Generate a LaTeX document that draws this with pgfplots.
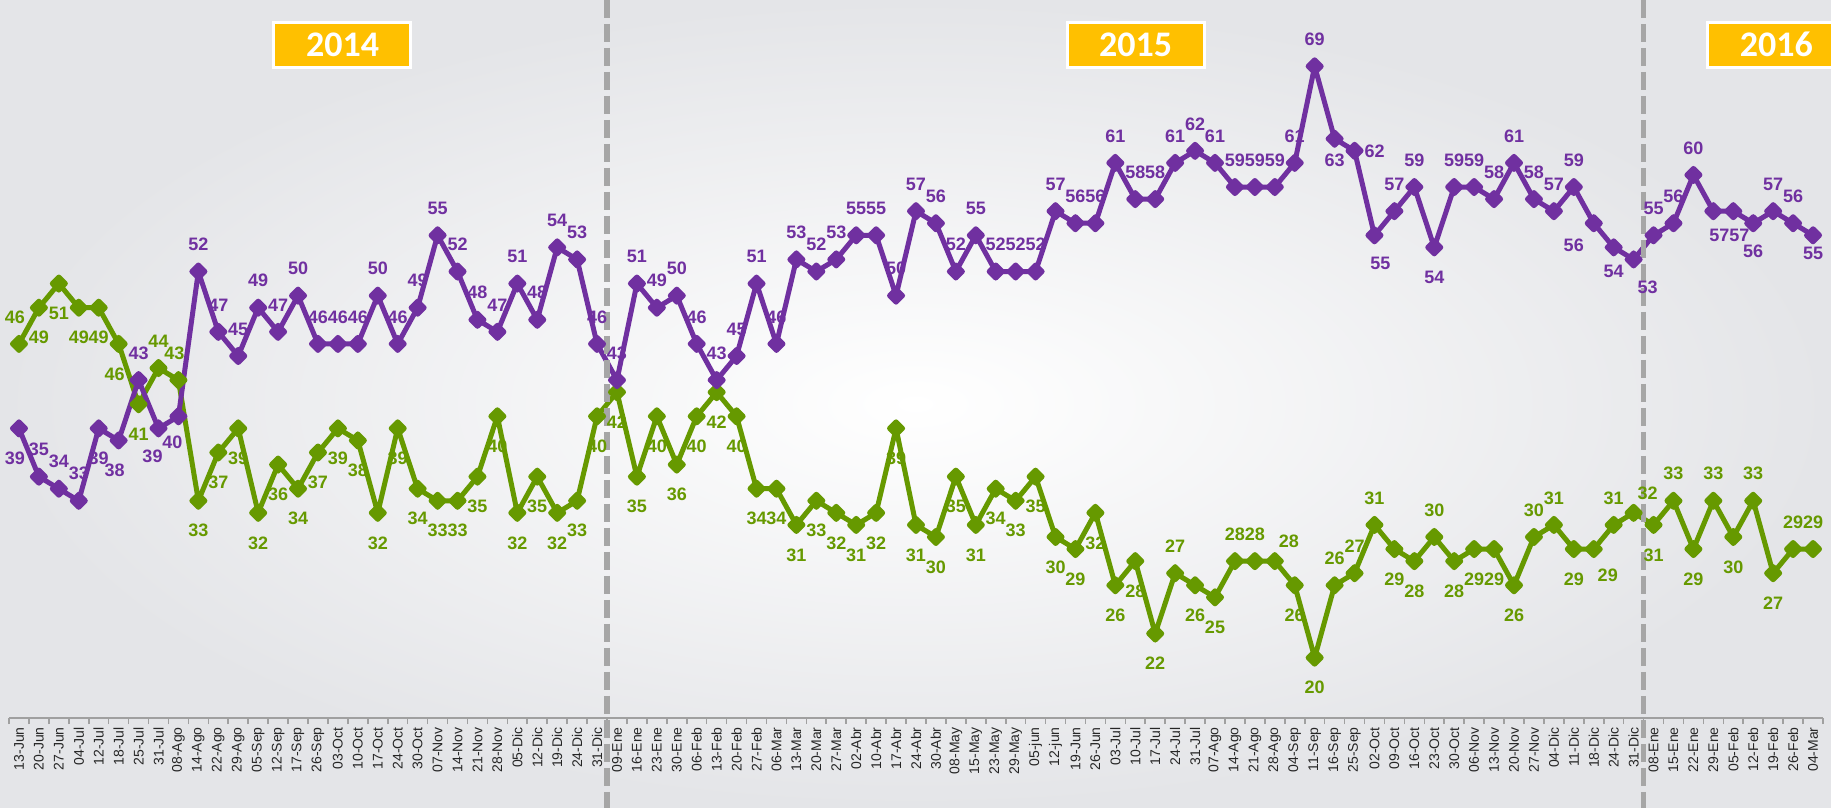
\documentclass[border=0pt]{standalone}
\usepackage{fontspec}
\setmainfont{Liberation Sans}
\newfontfamily\yearfont{Carlito}
\usepackage{pgfplots}
\usepackage{pgfplotstable}
\pgfplotsset{compat=1.18}
\definecolor{cP}{HTML}{7030A0}
\definecolor{cG}{HTML}{669900}
\definecolor{cDash}{HTML}{A6A6A6}
\definecolor{cYear}{HTML}{FFC000}
\definecolor{bgEdge}{HTML}{E4E5E8}
\definecolor{cAxis}{HTML}{A0A0A0}

\pgfplotstableread{
x P pdx pdy G gdx gdy
0 39 -2 -15 46 -2 13.5
1 35 0 13.5 49 0 -15
2 34 0 13.5 51 0 -15
3 33 0 13.5 49 0 -15
4 39 0 -15 49 0 -15
5 38 -2 -15 46 -2 -15
6 43 0 13.5 41 0 -15
7 39 -3 -14 44 0 13.5
8 40 -3 -13 43 -2 13.5
9 52 0 13.5 33 0 -15
10 47 0 13.5 37 0 -15
11 45 0 13.5 39 0 -15
12 49 0 13.5 32 0 -15
13 47 0 13.5 36 0 -15
14 50 0 13.5 34 0 -15
15 46 0 13.5 37 0 -15
16 46 0 13.5 39 0 -15
17 46 0 13.5 38 0 -15
18 50 0 13.5 32 0 -15
19 46 0 13.5 39 0 -15
20 49 0 13.5 34 0 -15
21 55 0 13.5 33 0 -15
22 52 0 13.5 33 0 -15
23 48 0 13.5 35 0 -15
24 47 0 13.5 40 0 -15
25 51 0 13.5 32 0 -15
26 48 0 13.5 35 0 -15
27 54 0 13.5 32 0 -15
28 53 0 13.5 33 0 -15
29 46 0 13.5 40 0 -15
30 43 0 13.5 42 0 -15
31 51 0 13.5 35 0 -15
32 49 0 13.5 40 0 -15
33 50 0 13.5 36 0 -15
34 46 0 13.5 40 0 -15
35 43 0 13.5 42 0 -15
36 45 0 13.5 40 0 -15
37 51 0 13.5 34 0 -15
38 46 0 13.5 34 0 -15
39 53 0 13.5 31 0 -15
40 52 0 13.5 33 0 -15
41 53 0 13.5 32 0 -15
42 55 0 13.5 31 0 -15
43 55 0 13.5 32 0 -15
44 50 0 13.5 39 0 -15
45 57 0 13.5 31 0 -15
46 56 0 13.5 30 0 -15
47 52 0 13.5 35 0 -15
48 55 0 13.5 31 0 -15
49 52 0 13.5 34 0 -15
50 52 0 13.5 33 0 -15
51 52 0 13.5 35 0 -15
52 57 0 13.5 30 0 -15
53 56 0 13.5 29 0 -15
54 56 0 13.5 32 0 -15
55 61 0 13.5 26 0 -15
56 58 0 13.5 28 0 -15
57 58 0 13.5 22 0 -15
58 61 0 13.5 27 0 13.5
59 62 0 13.5 26 0 -15
60 61 0 13.5 25 0 -15
61 59 0 13.5 28 0 13.5
62 59 0 13.5 28 0 13.5
63 59 0 13.5 28 7 10
64 61 0 13.5 26 0 -15
65 69 0 13.5 20 0 -15
66 63 0 -11 26 0 13.5
67 62 10 0 27 0 13.5
68 55 3 -14 31 0 13.5
69 57 0 13.5 29 0 -15
70 59 0 13.5 28 0 -15
71 54 0 -15 30 0 13.5
72 59 0 13.5 28 0 -15
73 59 0 13.5 29 0 -15
74 58 0 13.5 29 0 -15
75 61 0 13.5 26 0 -15
76 58 0 13.5 30 0 13.5
77 57 0 13.5 31 0 13.5
78 59 0 13.5 29 0 -15
79 56 -10 -11 29 7 -13
80 54 0 -12 31 0 13.5
81 53 7 -14 32 7 10
82 55 0 13.5 31 0 -15
83 56 0 13.5 33 0 13.5
84 60 0 13.5 29 0 -15
85 57 3 -12 33 0 13.5
86 57 3 -12 30 0 -15
87 56 0 -14 33 0 13.5
88 57 0 13.5 27 0 -15
89 56 0 13.5 29 0 13.5
90 55 0 -9 29 0 13.5
}\data

\begin{document}
\begin{tikzpicture}
\shade[inner color=white, outer color=bgEdge] (-4.5pt,-45pt) rectangle (911pt,359pt);
\begin{axis}[
  at={(0pt,0pt)}, anchor=south west,
  scale only axis, width=907pt, height=359pt,
  xmin=-0.5, xmax=90.5, ymin=15, ymax=74.5,
  clip=false,
  /pgf/number format/assume math mode=true,
  axis x line*=bottom, axis y line=none,
  x axis line style={draw=cAxis, line width=1pt, -},
  xtick={0,...,90},
  major tick length=0pt,
  minor xtick={-0.5,0.5,...,90.5},
  minor tick length=3pt,
  tick align=outside,
  minor tick style={draw=cAxis, line width=0.8pt},
  xticklabels={13-Jun,20-Jun,27-Jun,04-Jul,12-Jul,18-Jul,25-Jul,31-Jul,08-Ago,14-Ago,22-Ago,29-Ago,05-Sep,12-Sep,17-Sep,26-Sep,03-Oct,10-Oct,17-Oct,24-Oct,30-Oct,07-Nov,14-Nov,21-Nov,28-Nov,05-Dic,12-Dic,19-Dic,24-Dic,31-Dic,09-Ene,16-Ene,23-Ene,30-Ene,06-Feb,13-Feb,20-Feb,27-Feb,06-Mar,13-Mar,20-Mar,27-Mar,02-Abr,10-Abr,17-Abr,24-Abr,30-Abr,08-May,15-May,23-May,29-May,05-jun,12-jun,19-Jun,26-Jun,03-Jul,10-Jul,17-Jul,24-Jul,31-Jul,07-Ago,14-Ago,21-Ago,28-Ago,04-Sep,11-Sep,16-Sep,25-Sep,02-Oct,09-Oct,16-Oct,23-Oct,30-Oct,06-Nov,13-Nov,20-Nov,27-Nov,04-Dic,11-Dic,18-Dic,24-Dic,31-Dic,08-Ene,15-Ene,22-Ene,29-Ene,05-Feb,12-Feb,19-Feb,26-Feb,04-Mar},
  xticklabel style={rotate=90, anchor=east, font=\fontsize{7}{8}\selectfont, text=black!85, inner sep=1pt, xshift=-3.5pt},
]
% lines
\addplot[cG, line width=2.5pt, line join=round, mark=square*, mark size=2.3pt, mark options={rotate=45, solid, fill=cG}] table[x=x, y=G] {\data};
\addplot[cP, line width=2.5pt, line join=round, mark=square*, mark size=2.3pt, mark options={rotate=45, solid, fill=cP}] table[x=x, y=P] {\data};
% labels
\addplot[draw=none, mark=none, nodes near coords, point meta=explicit,
  visualization depends on={\thisrow{gdx}\as\dx},
  visualization depends on={\thisrow{gdy}\as\dy},
  every node near coord/.append style={font=\bfseries\fontsize{9}{10}\selectfont, text=cG, anchor=center, inner sep=0pt, xshift=\dx pt, yshift=\dy pt}]
  table[x=x, y=G, meta=G] {\data};
\addplot[draw=none, mark=none, nodes near coords, point meta=explicit,
  visualization depends on={\thisrow{pdx}\as\dx},
  visualization depends on={\thisrow{pdy}\as\dy},
  every node near coord/.append style={font=\bfseries\fontsize{9}{10}\selectfont, text=cP, anchor=center, inner sep=0pt, xshift=\dx pt, yshift=\dy pt}]
  table[x=x, y=P, meta=P] {\data};
% year separators
\draw[cDash, line width=2.6pt, dash pattern=on 9pt off 3pt] (axis cs:29.5,74.5) -- ([yshift=-45pt]axis cs:29.5,15);
\draw[cDash, line width=2.6pt, dash pattern=on 9pt off 3pt] (axis cs:81.5,74.5) -- ([yshift=-45pt]axis cs:81.5,15);
% year boxes
\node[fill=cYear, draw=white, line width=1.5pt, minimum width=68.5pt, minimum height=22.5pt, inner sep=0pt, text=white, font=\yearfont\bfseries\fontsize{18}{18}\selectfont] at (axis cs:16.23,70.81) {2014};
\node[fill=cYear, draw=white, line width=1.5pt, minimum width=68.5pt, minimum height=22.5pt, inner sep=0pt, text=white, font=\yearfont\bfseries\fontsize{18}{18}\selectfont] at (axis cs:56.02,70.81) {2015};
\node[fill=cYear, draw=white, line width=1.5pt, minimum width=68.5pt, minimum height=22.5pt, inner sep=0pt, text=white, font=\yearfont\bfseries\fontsize{18}{18}\selectfont] at (axis cs:88.16,70.81) {2016};
\end{axis}
\pgfresetboundingbox
\useasboundingbox (-4.5pt,-45pt) rectangle (911pt,359pt);
\end{tikzpicture}
\end{document}
